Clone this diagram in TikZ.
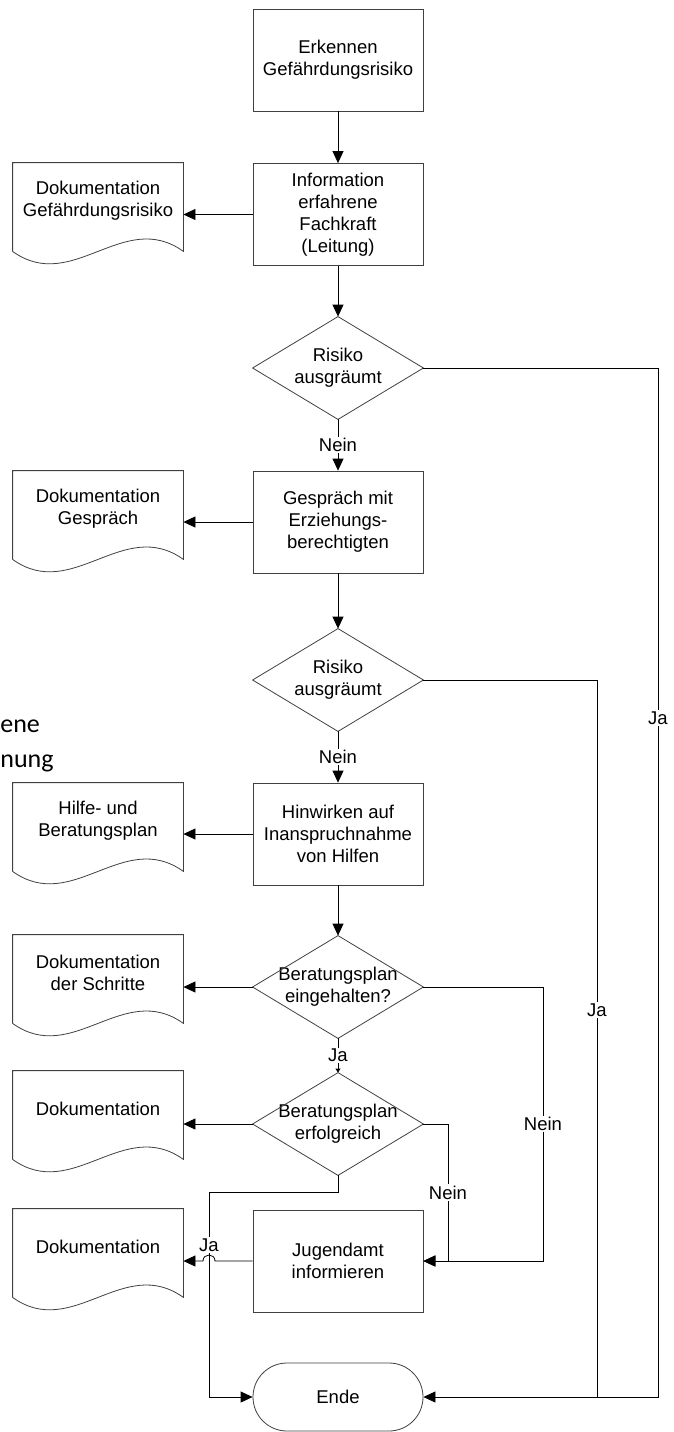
\documentclass[tikz,border=0pt]{standalone}
\usepackage{fontspec}
\setmainfont{Liberation Sans}
\newfontfamily\calfont{Carlito}
\usetikzlibrary{arrows.meta,calc}

\begin{document}
\begin{tikzpicture}[x=1pt,y=-1pt,
   font=\fontsize{18.5}{22}\selectfont,
   >={Triangle[length=12pt,width=11pt]},
   line width=0.8pt,
   proc/.style={draw=black!75,minimum width=170pt,minimum height=102pt,inner sep=0pt,align=center},
   doc/.style={minimum width=170pt,minimum height=76pt,inner sep=0pt,align=center},
   dec/.style={minimum width=170pt,minimum height=102pt,inner sep=0pt,align=center},
   term/.style={draw=black!75,rounded corners=34pt,minimum width=170pt,minimum height=68pt,inner sep=0pt},
   lbl/.style={fill=white,inner sep=1.5pt},
   frag/.style={anchor=base west,inner sep=0pt,font=\calfont\fontsize{26}{30}\selectfont}]
 %  \draw[gray] (0,0) rectangle (673,1432);
   \path[use as bounding box] (0,0) rectangle (673,1432);
   \node[frag] (frag1) at (0,732) {ene};
   \node[frag] (frag2) at (0,767) {nung};
   \node[proc] (erk)    at (338,  60.0) {Erkennen\\Gefährdungsrisiko};
   \node[proc] (info)   at (338, 214.5) {Information\\erfahrene\\Fachkraft\\(Leitung)};
   \node[dec]  (ris1)   at (338, 368.0) {Risiko\\ausgräumt};
   \node[proc] (gespr)  at (338, 522.0) {Gespräch mit\\Erziehungs-\\berechtigten};
   \node[dec]  (ris2)   at (338, 680.0) {Risiko\\ausgräumt};
   \node[proc] (hinw)   at (338, 834.0) {Hinwirken auf\\Inanspruchnahme\\von Hilfen};
   \node[dec]  (plan1)  at (338, 987.0) {Beratungsplan\\eingehalten?};
   \node[dec]  (plan2)  at (338,1124.0) {Beratungsplan\\erfolgreich};
   \node[proc] (jugamt) at (338,1261.0) {Jugendamt\\informieren};
   \node[term] (ende)   at (338,1397.0) {Ende};
   \node[doc] (doc1) at (98, 201) {Dokumentation\\Gefährdungsrisiko};
   \node[doc] (doc2) at (98, 509) {Dokumentation\\Gespräch};
   \node[doc] (doc3) at (98, 821) {Hilfe- und\\Beratungsplan};
   \node[doc] (doc4) at (98, 973) {Dokumentation\\der Schritte};
   \node[doc] (doc5) at (98,1109) {Dokumentation};
   \node[doc] (doc6) at (98,1247) {Dokumentation};
   \foreach \d in {doc1,doc2,doc3,doc4,doc5,doc6}
     \draw[draw=black!75] ([yshift=-12pt]\d.south west) -- (\d.north west) -- (\d.north east)
        -- ([yshift=-12pt]\d.south east) .. controls +(-60,-43) and +(60,43) .. ([yshift=-12pt]\d.south west);
   \foreach \d in {ris1,ris2,plan1,plan2}
     \draw[draw=black!75] (\d.north) -- (\d.east) -- (\d.south) -- (\d.west) -- cycle;
   \coordinate (jaR)   at (658,0);
   \coordinate (jaM)   at (597,0);
   \coordinate (neinR) at (543,0);
   \coordinate (neinM) at (448,0);
   \coordinate (jaL)   at (209,1192);
   \draw[->] (erk) -- (info);
   \draw[->] (info) -- (ris1);
   \draw[->] (ris1) -- node[lbl]{Nein} (gespr);
   \draw[->] (gespr) -- (ris2);
   \draw[->] (ris2) -- node[lbl]{Nein} (hinw);
   \draw[->] (hinw) -- (plan1);
   \draw[-{Triangle[length=4pt,width=5pt]}] (plan1) -- node[lbl]{Ja} (plan2);
   \draw[->] (info.west) -- (info.west -| doc1.east);
   \draw[->] (gespr.west) -- (gespr.west -| doc2.east);
   \draw[->] (hinw.west) -- (hinw.west -| doc3.east);
   \draw[->] (plan1.west) -- (plan1.west -| doc4.east);
   \draw[->] (plan2.west) -- (plan2.west -| doc5.east);
   \draw[->] (ris1.east) -- (ris1.east -| jaR) -- node[lbl,pos=0.34]{Ja} (jaR |- ende.east) -- (ende.east);
   \draw (ris2.east) -- (ris2.east -| jaM) -- node[lbl,pos=0.46]{Ja} (jaM |- ende.east);
   \draw[->] (plan1.east) -- (plan1.east -| neinR) -- node[lbl]{Nein} (neinR |- jugamt.east) -- (jugamt.east);
   \draw[->] (plan2.east) -- (plan2.east -| neinM) -- node[lbl]{Nein} (neinM |- jugamt.east) -- (jugamt.east);
   \draw[->] (plan2.south) -- (plan2.south |- jaL) -- (jaL) -- node[lbl,pos=0.26]{Ja} (jaL |- ende.west) -- (ende.west);
   \draw[->] (jugamt.west) -- ($(jaL |- jugamt.west)+(6,0)$)
      .. controls +(0,-8) and +(0,-8) .. ($(jaL |- jugamt.west)+(-6,0)$) -- (jugamt.west -| doc6.east);
\end{tikzpicture}
\end{document}
